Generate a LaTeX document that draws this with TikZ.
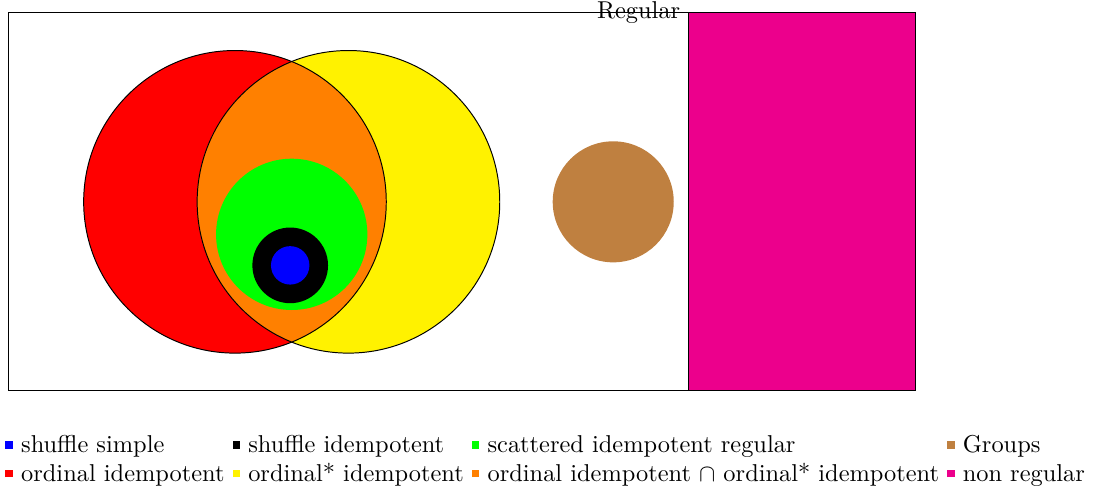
\documentclass[tikz,border=0pt]{standalone}
\usepackage{amsmath}
\usepackage{xcolor}
\usetikzlibrary{matrix}

\newcommand{\legsq}[1]{\textcolor{#1}{\rule[1.6pt]{3.1pt}{3.1pt}}}

\begin{document}
\begin{tikzpicture}[
    x=2.18cm, y=2.18cm,
    set/.style={draw=black, line width=0.4pt},
    legendmat/.style={matrix of nodes, anchor=north west, inner sep=0pt,
                      column sep=3.3pt, row sep=2.7pt,
                      nodes={anchor=west, inner sep=0pt,
                             text height=7pt, text depth=2pt}}
  ]
  \useasboundingbox (-0.053,-0.661) rectangle (7.204,2.584);

  % regular part
  \draw[set] (0,0) rectangle (4.5,2.5);
  \coordinate (regcorner) at (4.5,2.5);
  \node[anchor=east] (reglabel) at (regcorner) {Regular};

  \coordinate (ordc) at (1.5,1.25);
  \coordinate (ordsc) at (2.25,1.25);
  \fill[red] (ordc) circle (1);
  \fill[yellow] (ordsc) circle (1);
  \begin{scope}
    \clip (ordc) circle (1);
    \fill[orange] (ordsc) circle (1);
  \end{scope}
  \draw[set] (ordc) circle (1);
  \draw[set] (ordsc) circle (1);

  \coordinate (scatc) at (1.875,1.035);
  \coordinate (shufc) at (1.865,0.83);
  \fill[green] (scatc) circle (0.5);
  \fill[black] (shufc) circle (0.25);
  \fill[blue] (shufc) circle (0.127);

  \coordinate (grpc) at (4,1.25);
  \fill[brown] (grpc) circle (0.4);

  % non regular part
  \filldraw[set, fill=magenta] (4.5,0) rectangle (6,2.5);

  \matrix (legend) [legendmat] at (-0.02,-0.291) {
    \legsq{blue} shuffle simple & \legsq{black} shuffle idempotent &
    \legsq{green} scattered idempotent regular & \legsq{brown} Groups \\
    \legsq{red} ordinal idempotent & \legsq{yellow} ordinal* idempotent &
    \legsq{orange} ordinal idempotent $\cap$ ordinal* idempotent & \legsq{magenta} non regular \\
  };
\end{tikzpicture}
\end{document}
